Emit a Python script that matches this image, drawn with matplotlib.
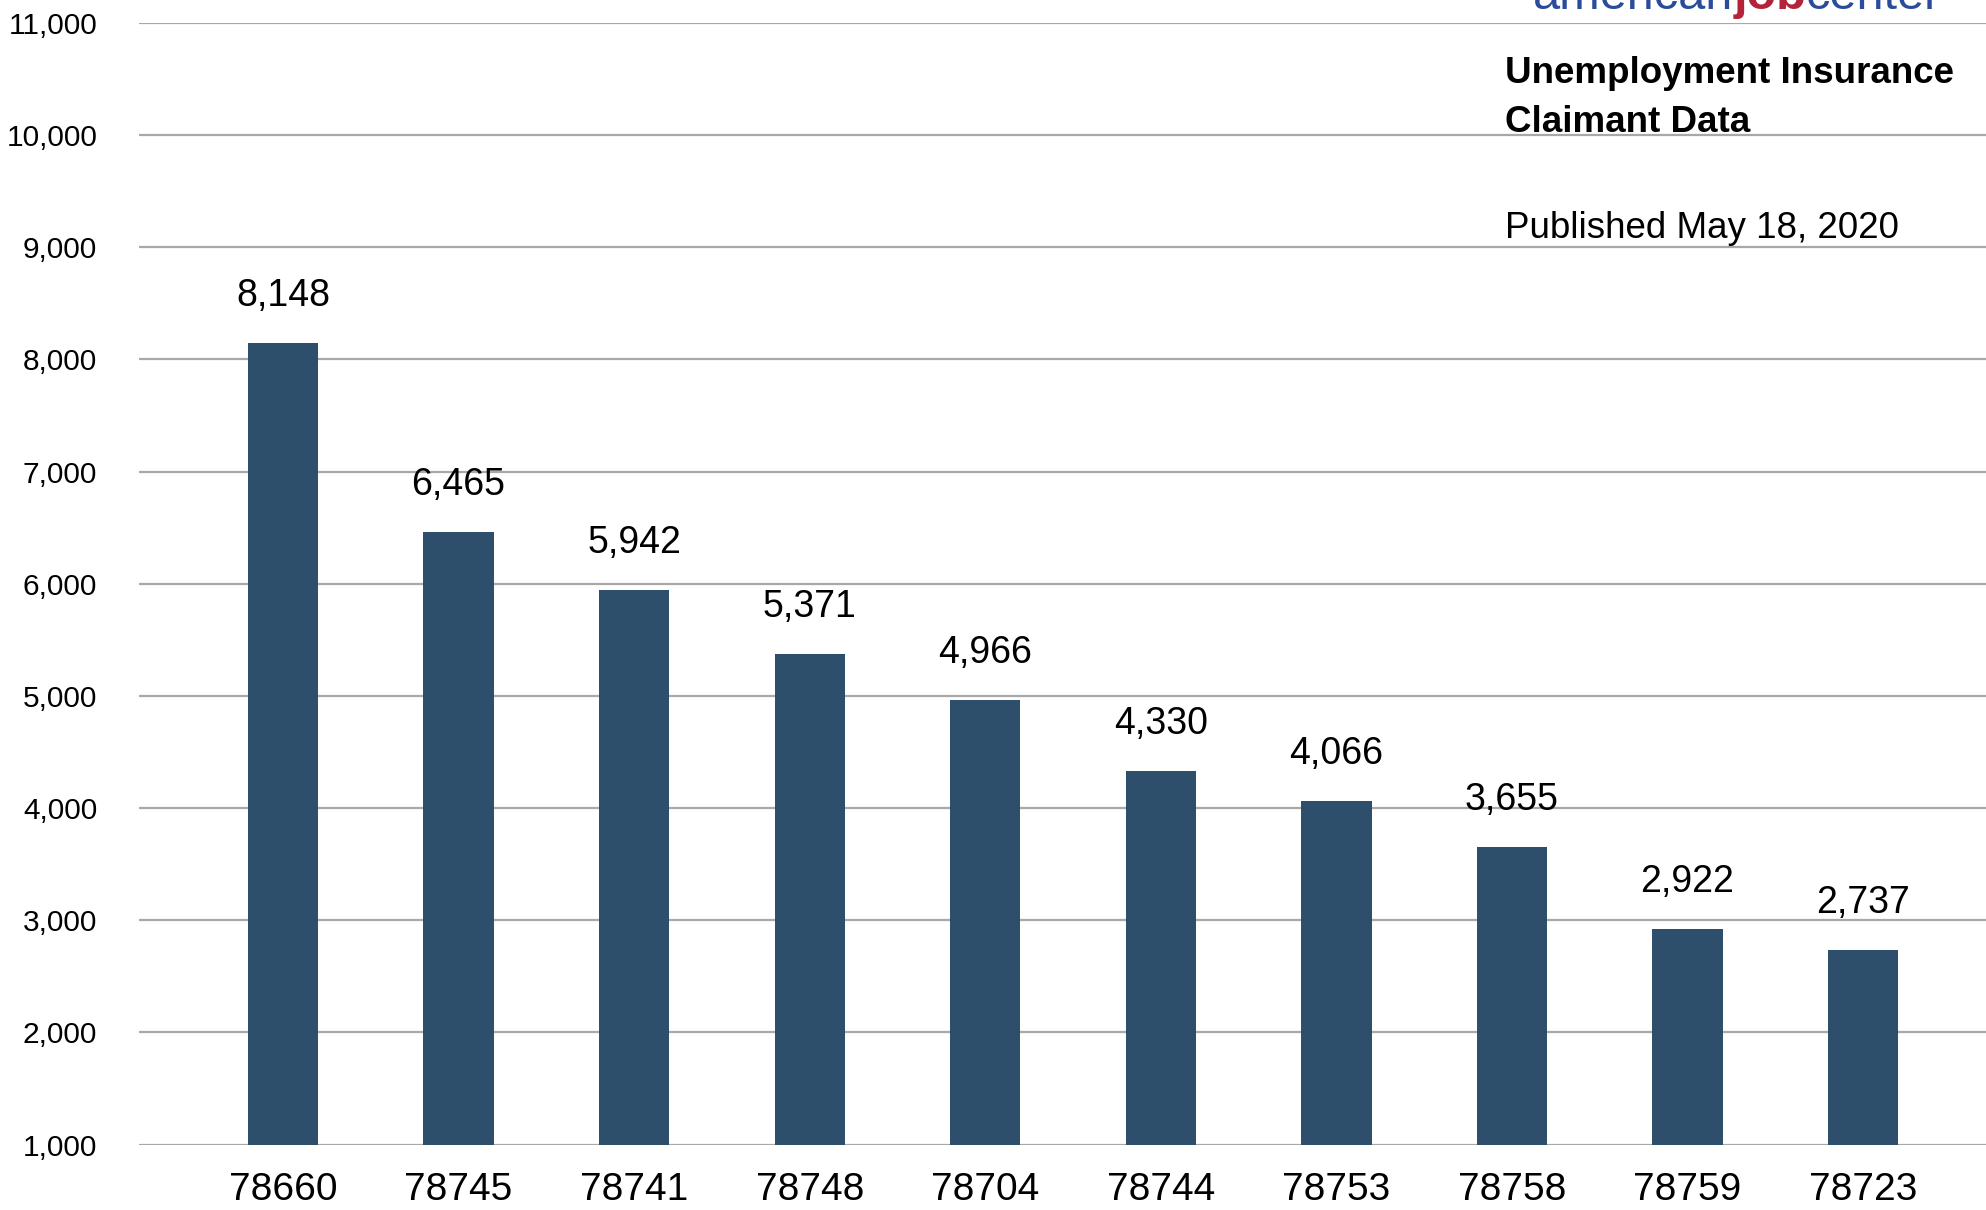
import matplotlib
matplotlib.use('Agg')
import matplotlib.pyplot as plt

zip_codes = ['78660', '78745', '78741', '78748', '78704',
             '78744', '78753', '78758', '78759', '78723']
claims = [8148, 6465, 5942, 5371, 4966, 4330, 4066, 3655, 2922, 2737]
y_ticks = [1000, 2000, 3000, 4000, 5000, 6000, 7000, 8000, 9000, 10000, 11000]

bar_color = '#2d4f6b'
grid_color = '#a8a8a8'
plt.rcParams['font.family'] = ['Liberation Sans', 'DejaVu Sans']

fig = plt.figure(figsize=(19.86, 12.10), dpi=100)
ax = fig.add_axes([0.07, 0.054, 0.93, 0.927])

x = list(range(len(zip_codes)))
bars = ax.bar(x, claims, width=0.4, color=bar_color, zorder=2)

for xi, val in zip(x, claims):
    ax.annotate(f'{val:,}', (xi, val), xytext=(0, 21), textcoords='offset points',
                ha='center', va='bottom', fontsize=27)

ax.set_ylim(1000, 11000)
ax.set_xlim(-0.82, 9.7)
ax.set_yticks(y_ticks)
ax.set_yticklabels([f'{t:,}' for t in y_ticks], fontsize=21.5)
ax.set_xticks(x)
ax.set_xticklabels(zip_codes, fontsize=28)
ax.tick_params(axis='y', length=0, pad=30)
ax.tick_params(axis='x', length=0, pad=20)
ax.grid(axis='y', color=grid_color, linewidth=1.6, zorder=1)
for s in ax.spines.values():
    s.set_visible(False)

# header block, top right
hx = 1505 / 1986
fig.text(hx, 1 - 83 / 1210, 'Unemployment Insurance',
         fontsize=26.5, fontweight='bold', ha='left', va='baseline')
fig.text(hx, 1 - 132 / 1210, 'Claimant Data',
         fontsize=26.5, fontweight='bold', ha='left', va='baseline')
fig.text(hx, 1 - 238 / 1210, 'Published May 18, 2020',
         fontsize=26.5, ha='left', va='baseline')

# logo, cut off at the top edge as in the source
logo_y = 1 - 9 / 1210
t1 = fig.text(1533 / 1986, logo_y, 'american', color='#2b4c9b', fontsize=35,
              ha='left', va='baseline')
fig.canvas.draw()
r = fig.canvas.get_renderer()
bb = t1.get_window_extent(r)
t2 = fig.text(bb.x1 / fig.bbox.width, logo_y, 'job', color='#b5233a', fontsize=35,
              fontweight='bold', ha='left', va='baseline')
bb2 = t2.get_window_extent(r)
fig.text(bb2.x1 / fig.bbox.width, logo_y, 'center', color='#2b4c9b', fontsize=35,
         ha='left', va='baseline')

fig.savefig('out.png', dpi=100)
